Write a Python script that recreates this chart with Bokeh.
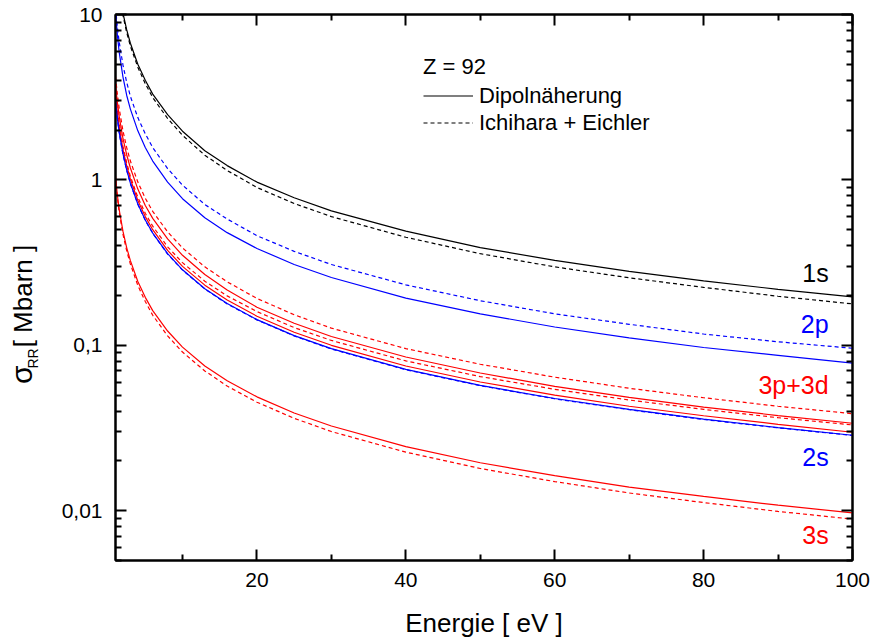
import math
from bokeh.plotting import figure
from bokeh.layouts import row
from bokeh.models import (Range1d, FixedTicker, LogAxis, LinearAxis, CustomJSTickFormatter,
                          Label, Legend, LegendItem, ColumnDataSource)
from bokeh.embed import file_html
from bokeh.resources import INLINE

# ---------------- data ----------------
energy = [1, 1.25, 1.5, 2, 2.5, 3, 4, 5, 6, 8, 10, 13, 16, 20, 25, 30, 40, 50, 60, 70, 80, 90, 100]

s1_dipol = [20.5, 16.4, 13.7, 10.2, 8.1, 6.7, 5.0, 4.0, 3.3, 2.48, 1.97, 1.5, 1.22, 0.97, 0.78, 0.65,
            0.49, 0.39, 0.326, 0.28, 0.245, 0.218, 0.196]
s1_ie = [20.0, 15.9, 13.3, 9.9, 7.8, 6.45, 4.8, 3.82, 3.15, 2.35, 1.86, 1.41, 1.14, 0.9, 0.72, 0.6,
         0.45, 0.358, 0.298, 0.256, 0.224, 0.198, 0.178]
p2_dipol = [10.5, 7.5, 5.9, 4.2, 3.25, 2.68, 1.98, 1.57, 1.3, 0.97, 0.77, 0.59, 0.48, 0.385, 0.308,
            0.257, 0.193, 0.155, 0.129, 0.111, 0.097, 0.087, 0.078]
p2_ie = [11.0, 8.4, 6.8, 4.95, 3.9, 3.2, 2.38, 1.9, 1.57, 1.17, 0.93, 0.71, 0.58, 0.46, 0.37, 0.308,
         0.232, 0.186, 0.155, 0.134, 0.117, 0.105, 0.096]
s2_dipol = [3.0, 2.35, 1.93, 1.44, 1.15, 0.955, 0.715, 0.572, 0.477, 0.358, 0.286, 0.22, 0.179, 0.143,
            0.1145, 0.0955, 0.0715, 0.0572, 0.0477, 0.041, 0.0358, 0.0318, 0.0286]
s2_ie = [2.98, 2.34, 1.92, 1.43, 1.145, 0.95, 0.712, 0.57, 0.475, 0.356, 0.285, 0.219, 0.178, 0.1425,
         0.114, 0.095, 0.0712, 0.057, 0.0475, 0.0408, 0.0356, 0.0317, 0.0285]
p3_dipol = [3.8, 2.95, 2.42, 1.78, 1.42, 1.18, 0.88, 0.7, 0.585, 0.44, 0.35, 0.268, 0.216, 0.17, 0.136,
            0.113, 0.085, 0.068, 0.0565, 0.0484, 0.0423, 0.0376, 0.0338]
p3_ie = [4.2, 3.3, 2.7, 1.98, 1.57, 1.3, 0.97, 0.775, 0.645, 0.485, 0.388, 0.298, 0.242, 0.192, 0.153,
         0.127, 0.0955, 0.0768, 0.0642, 0.055, 0.0482, 0.0428, 0.0386]
d3_dipol = [3.3, 2.55, 2.08, 1.53, 1.22, 1.01, 0.75, 0.6, 0.5, 0.375, 0.3, 0.231, 0.188, 0.15, 0.12,
            0.1, 0.075, 0.06, 0.05, 0.0428, 0.0375, 0.0333, 0.0298]
d3_ie = [3.5, 2.7, 2.2, 1.6, 1.27, 1.05, 0.785, 0.628, 0.525, 0.394, 0.316, 0.244, 0.199, 0.16, 0.128,
         0.107, 0.0805, 0.0647, 0.0542, 0.0467, 0.041, 0.0365, 0.033]
s3_dipol = [1.05, 0.81, 0.66, 0.49, 0.39, 0.325, 0.243, 0.195, 0.162, 0.122, 0.0975, 0.075, 0.061,
            0.0488, 0.039, 0.0325, 0.0244, 0.0195, 0.0163, 0.0139, 0.0122, 0.0108, 0.0097]
s3_ie = [1.02, 0.78, 0.635, 0.47, 0.373, 0.31, 0.23, 0.184, 0.152, 0.114, 0.091, 0.07, 0.0567, 0.0453,
         0.0362, 0.0301, 0.0226, 0.018, 0.015, 0.0128, 0.0112, 0.0099, 0.0089]

x_ticks = [20, 40, 60, 80, 100]
x_minor = [10, 30, 50, 70, 90]
y_ticks = [0.01, 0.1, 1, 10]
y_minor = [0.005, 0.006, 0.007, 0.008, 0.009, 0.02, 0.03, 0.04, 0.05, 0.06, 0.07, 0.08, 0.09,
           0.2, 0.3, 0.4, 0.5, 0.6, 0.7, 0.8, 0.9, 2, 3, 4, 5, 6, 7, 8, 9]

# curve labels: (text, color, y position of the baseline)
curve_labels = [("1s", "black", 0.273), ("2p", "blue", 0.1336), ("3p+3d", "red", 0.0578),
                ("2s", "blue", 0.0212), ("3s", "red", 0.00714)]

FONT = "Liberation Sans"
LAB_W = 57

# ---------------- narrow strip holding the rotated y-axis title ----------------
pl = figure(width=LAB_W, height=643, output_backend="svg", toolbar_location=None,
            x_range=Range1d(0, LAB_W), y_range=Range1d(643, 0),
            x_axis_type=None, y_axis_type=None, min_border=0)
pl.outline_line_color = None
pl.background_fill_color = "white"
pl.border_fill_color = "white"
pl.add_layout(Label(x=21, y=435, text="σ", angle=math.pi / 2, text_align="left",
                    text_baseline="alphabetic", text_font=FONT, text_font_size="30px",
                    text_color="black"))
pl.add_layout(Label(x=32, y=417, text="RR", angle=math.pi / 2, text_align="left",
                    text_baseline="alphabetic", text_font=FONT, text_font_size="14px",
                    text_color="black"))
pl.add_layout(Label(x=22, y=392, text="[ Mbarn ]", angle=math.pi / 2, text_align="left",
                    text_baseline="alphabetic", text_font=FONT, text_font_size="26px",
                    text_color="black"))

# ---------------- main plot ----------------
p = figure(width=871 - LAB_W, height=643, output_backend="svg", toolbar_location=None,
           x_range=Range1d(1, 100), y_range=Range1d(0.005, 10), y_axis_type="log",
           min_border_left=115 - LAB_W, min_border_right=19, min_border_top=14, min_border_bottom=83)
p.xgrid.visible = False
p.ygrid.visible = False
p.outline_line_color = "black"
p.outline_line_width = 2
p.background_fill_color = "white"
p.border_fill_color = "white"

src = ColumnDataSource(dict(e=energy, s1d=s1_dipol, s1i=s1_ie, p2d=p2_dipol, p2i=p2_ie,
                            s2d=s2_dipol, s2i=s2_ie, p3d=p3_dipol, p3i=p3_ie,
                            d3d=d3_dipol, d3i=d3_ie, s3d=s3_dipol, s3i=s3_ie))

LW = 1.2
DASH = "4 3"
p.line("e", "s3d", source=src, color="red", line_width=LW)
p.line("e", "s3i", source=src, color="red", line_width=LW, line_dash=DASH)
p.line("e", "d3d", source=src, color="red", line_width=LW)
p.line("e", "d3i", source=src, color="red", line_width=LW, line_dash=DASH)
p.line("e", "p3d", source=src, color="red", line_width=LW)
p.line("e", "p3i", source=src, color="red", line_width=LW, line_dash=DASH)
p.line("e", "s2i", source=src, color="blue", line_width=LW, line_dash=DASH)
p.line("e", "s2d", source=src, color="blue", line_width=LW)
p.line("e", "p2d", source=src, color="blue", line_width=LW)
p.line("e", "p2i", source=src, color="blue", line_width=LW, line_dash=DASH)
r_sol = p.line("e", "s1d", source=src, color="black", line_width=LW)
r_dash = p.line("e", "s1i", source=src, color="black", line_width=LW, line_dash=DASH)


def style_axis(ax, show_labels):
    ax.major_tick_in = 11
    ax.major_tick_out = 0
    ax.minor_tick_in = 6
    ax.minor_tick_out = 0
    ax.axis_line_width = 2
    ax.major_tick_line_width = 2
    ax.minor_tick_line_width = 2
    ax.axis_line_color = "black"
    ax.major_tick_line_color = "black"
    ax.minor_tick_line_color = "black"
    if show_labels:
        ax.major_label_text_font = FONT
        ax.major_label_text_font_size = "21px"
        ax.major_label_text_color = "black"
        ax.major_label_standoff = 12
    else:
        ax.major_label_text_font_size = "0px"
        ax.major_label_standoff = 0
        ax.formatter = CustomJSTickFormatter(code="return ''")


xax = p.below[0]
xax.ticker = FixedTicker(ticks=x_ticks, minor_ticks=x_minor)
style_axis(xax, True)
xax.axis_label = "Energie [ eV ]"
xax.axis_label_text_font = FONT
xax.axis_label_text_font_size = "26px"
xax.axis_label_text_font_style = "normal"
xax.axis_label_text_color = "black"
xax.axis_label_standoff = 18

yax = p.left[0]
yax.ticker = FixedTicker(ticks=y_ticks, minor_ticks=y_minor)
yax.formatter = CustomJSTickFormatter(code="return tick.toString().replace('.', ',')")
style_axis(yax, True)
yax.major_label_standoff = 13

top = LinearAxis(ticker=FixedTicker(ticks=x_ticks, minor_ticks=x_minor))
style_axis(top, False)
p.add_layout(top, "above")

right = LogAxis(ticker=FixedTicker(ticks=y_ticks, minor_ticks=y_minor))
style_axis(right, False)
p.add_layout(right, "right")

for txt, col, yv in curve_labels:
    p.add_layout(Label(x=96.8, y=yv, text=txt, text_align="right", text_baseline="alphabetic",
                       text_font=FONT, text_font_size="25px", text_color=col))

legend = Legend(title="Z = 92",
                items=[LegendItem(label="Dipolnäherung", renderers=[r_sol]),
                       LegendItem(label="Ichihara + Eichler", renderers=[r_dash])],
                location=(308, 424))
legend.title_text_font = FONT
legend.title_text_font_size = "22px"
legend.title_text_font_style = "normal"
legend.title_text_color = "black"
legend.title_standoff = 2
legend.label_text_font = FONT
legend.label_text_font_size = "22px"
legend.label_text_color = "black"
legend.glyph_width = 50
legend.glyph_height = 27
legend.label_height = 27
legend.label_standoff = 6
legend.spacing = 0
legend.padding = 0
legend.margin = 0
legend.border_line_color = None
legend.background_fill_alpha = 0
p.add_layout(legend, "center")

layout = row(pl, p, spacing=0)
open("out.html", "w").write(file_html(layout, INLINE))
